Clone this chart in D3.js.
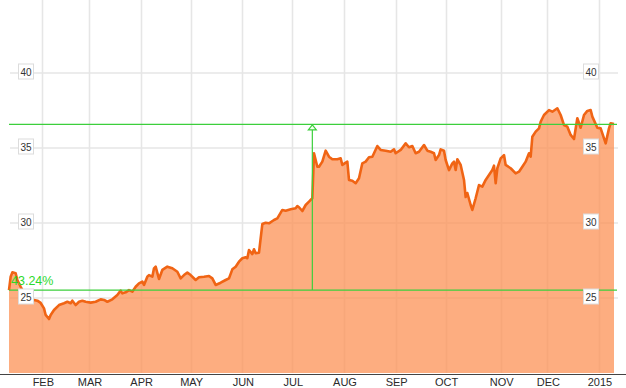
<!DOCTYPE html>
<html>
<head>
<meta charset="utf-8">
<script src="https://cdn.jsdelivr.net/npm/d3@7"></script>
<style>
  body { margin: 0; background: #fff; }
  svg { display: block; font-family: Arial, "Liberation Sans", sans-serif; }
</style>
</head>
<body>
<svg id="chart" width="626" height="388"></svg>
<script>
// One year of daily closes, area under an orange line, with a start/end change marker.

const dates = [
  "2014-01-12","2014-01-13","2014-01-14","2014-01-16","2014-01-17","2014-01-19","2014-01-21","2014-01-23",
  "2014-01-27","2014-01-29","2014-01-31","2014-02-02","2014-02-03","2014-02-05","2014-02-06","2014-02-08",
  "2014-02-11","2014-02-14","2014-02-16","2014-02-18","2014-02-19","2014-02-21","2014-02-23","2014-02-25",
  "2014-02-27","2014-03-02","2014-03-05","2014-03-08","2014-03-10","2014-03-12","2014-03-15","2014-03-18",
  "2014-03-20","2014-03-21","2014-03-23","2014-03-25","2014-03-27","2014-03-29","2014-03-31","2014-04-02",
  "2014-04-03","2014-04-05","2014-04-06","2014-04-08","2014-04-09","2014-04-10","2014-04-11","2014-04-12",
  "2014-04-14","2014-04-17","2014-04-20","2014-04-23","2014-04-25","2014-04-27","2014-04-29","2014-05-01",
  "2014-05-04","2014-05-06","2014-05-09","2014-05-12","2014-05-14","2014-05-16","2014-05-19","2014-05-22",
  "2014-05-24","2014-05-26","2014-05-28","2014-05-30","2014-06-01","2014-06-03","2014-06-04","2014-06-05",
  "2014-06-07","2014-06-08","2014-06-09","2014-06-11","2014-06-13","2014-06-15","2014-06-17","2014-06-20",
  "2014-06-22","2014-06-25","2014-06-27","2014-06-30","2014-07-03","2014-07-04","2014-07-05","2014-07-07",
  "2014-07-09","2014-07-11","2014-07-13","2014-07-14","2014-07-16","2014-07-17","2014-07-19","2014-07-21",
  "2014-07-23","2014-07-25","2014-07-28","2014-07-30","2014-07-31","2014-08-03","2014-08-04","2014-08-06",
  "2014-08-08","2014-08-10","2014-08-12","2014-08-14","2014-08-16","2014-08-18","2014-08-19","2014-08-21",
  "2014-08-23","2014-08-26","2014-08-29","2014-08-31","2014-09-01","2014-09-04","2014-09-07","2014-09-09",
  "2014-09-11","2014-09-13","2014-09-15","2014-09-18","2014-09-20","2014-09-22","2014-09-24","2014-09-25",
  "2014-09-27","2014-09-28","2014-09-30","2014-10-01","2014-10-03","2014-10-05","2014-10-06","2014-10-07",
  "2014-10-08","2014-10-10","2014-10-12","2014-10-13","2014-10-14","2014-10-16","2014-10-17","2014-10-19",
  "2014-10-21","2014-10-23","2014-10-25","2014-10-27","2014-10-29","2014-10-30","2014-10-31","2014-11-01",
  "2014-11-03","2014-11-05","2014-11-06","2014-11-09","2014-11-12","2014-11-14","2014-11-16","2014-11-18",
  "2014-11-20","2014-11-21","2014-11-22","2014-11-24","2014-11-26","2014-11-27","2014-11-29","2014-12-02",
  "2014-12-04","2014-12-07","2014-12-09","2014-12-11","2014-12-13","2014-12-15","2014-12-17","2014-12-19",
  "2014-12-21","2014-12-23","2014-12-25","2014-12-27","2014-12-28","2014-12-31","2015-01-02","2015-01-05",
  "2015-01-07","2015-01-08","2015-01-10"
];

const prices = [
  25.53,26.42,26.71,26.65,26.20,25.75,25.33,25.07,
  24.87,24.82,24.67,24.31,23.87,23.60,23.87,24.20,
  24.53,24.65,24.75,24.65,24.82,24.53,24.75,24.82,
  24.75,24.69,24.75,24.91,24.87,24.75,24.91,25.20,
  25.49,25.31,25.38,25.53,25.42,25.75,25.98,26.09,
  25.87,26.42,26.53,26.42,26.98,27.09,26.67,26.27,
  26.87,27.09,26.98,26.75,26.31,26.53,26.69,26.53,
  26.20,26.38,26.42,26.47,26.31,25.87,26.02,26.20,
  26.31,26.91,27.09,27.42,27.65,27.71,27.65,28.20,
  27.93,28.25,27.98,28.02,29.93,30.02,29.98,30.20,
  30.31,30.87,30.82,30.91,30.98,31.13,31.05,30.80,
  31.20,31.42,31.65,34.65,33.75,33.75,34.09,34.82,
  34.42,34.25,34.25,34.31,33.87,34.09,32.87,32.82,
  32.65,32.98,33.98,34.09,34.38,34.42,34.65,35.13,
  34.87,34.82,34.75,34.91,34.65,34.87,35.31,35.05,
  35.13,34.65,34.75,35.20,34.82,34.75,34.65,34.20,
  34.53,34.91,34.82,34.20,33.53,33.98,34.09,33.53,
  34.25,33.87,32.87,31.73,32.00,31.20,30.87,31.65,
  32.53,32.42,32.87,33.20,33.53,33.82,32.65,33.65,
  34.31,34.53,33.87,33.65,33.31,33.42,33.75,34.09,
  34.65,34.42,35.75,36.09,36.31,36.75,37.20,37.53,
  37.42,37.65,37.20,36.53,36.42,35.87,35.60,36.98,
  36.35,37.20,37.47,37.53,37.09,36.35,36.31,35.31,
  36.31,36.65,36.60
];

const monthTickDates = [
  "2014-02-01","2014-03-01","2014-04-01","2014-05-01","2014-06-01","2014-07-01",
  "2014-08-01","2014-09-01","2014-10-01","2014-11-03","2014-12-01","2015-01-01"
];
const monthTickLabels = ["FEB","MAR","APR","MAY","JUN","JUL","AUG","SEP","OCT","NOV","DEC","2015"];

const yTicks = [25, 30, 35, 40];

// change marker: start level, end level, date of the arrow
const baseValue = 25.53;
const endValue = 36.57;
const markerDate = "2014-07-13";
const changeLabel = "43.24%";

const parse = d3.timeParse("%Y-%m-%d");
const data = dates.map((d, i) => ({ date: parse(d), value: prices[i] }));

const svg = d3.select("#chart");
const width = +svg.attr("width");

const x = d3.scaleTime()
  .domain([parse("2014-01-12"), parse("2015-01-10")])
  .range([9, 614]);

const y = d3.scaleLinear()
  .domain([20, 45])
  .range([373, -2]);

const gridColor = "#e6e6e6";

// vertical month grid
svg.append("g")
  .selectAll("line")
  .data(monthTickDates)
  .join("line")
  .attr("x1", d => Math.round(x(parse(d))) + 0.5)
  .attr("x2", d => Math.round(x(parse(d))) + 0.5)
  .attr("y1", 0)
  .attr("y2", y(20))
  .attr("stroke", gridColor)
  .attr("stroke-width", 1.6);

// horizontal value grid
svg.append("g")
  .selectAll("line")
  .data(yTicks)
  .join("line")
  .attr("x1", 10)
  .attr("x2", 618)
  .attr("y1", d => y(d))
  .attr("y2", d => y(d))
  .attr("stroke", gridColor)
  .attr("stroke-width", 1.6);

const area = d3.area()
  .x(d => x(d.date))
  .y0(y(20))
  .y1(d => y(d.value));

const line = d3.line()
  .x(d => x(d.date))
  .y(d => y(d.value));

svg.append("path")
  .datum(data)
  .attr("d", area)
  .attr("fill", "#fc9155")
  .attr("fill-opacity", 0.75);

svg.append("path")
  .datum(data)
  .attr("d", line)
  .attr("fill", "none")
  .attr("stroke", "#f06414")
  .attr("stroke-width", 2.6)
  .attr("stroke-linejoin", "round");

// bottom axis line
svg.append("line")
  .attr("x1", 0)
  .attr("x2", width)
  .attr("y1", y(20) + 1.5)
  .attr("y2", y(20) + 1.5)
  .attr("stroke", "#444")
  .attr("stroke-width", 1);

// month labels
svg.append("g")
  .selectAll("text")
  .data(monthTickDates)
  .join("text")
  .attr("x", d => x(parse(d)) + 1)
  .attr("y", 386)
  .attr("text-anchor", "middle")
  .attr("font-family", "'Liberation Sans Narrow', 'Arial Narrow', Arial, sans-serif")
  .attr("font-size", 11)
  .attr("fill", "#2a2a2a")
  .text((d, i) => monthTickLabels[i]);

// change marker lines
const green = "#3ccf3c";
const mx = x(parse(markerDate));

svg.append("line")
  .attr("x1", 9).attr("x2", 617)
  .attr("y1", y(baseValue)).attr("y2", y(baseValue))
  .attr("stroke", green).attr("stroke-width", 1.2);

svg.append("line")
  .attr("x1", 9).attr("x2", 617)
  .attr("y1", y(endValue)).attr("y2", y(endValue))
  .attr("stroke", green).attr("stroke-width", 1.2);

svg.append("line")
  .attr("x1", mx).attr("x2", mx)
  .attr("y1", y(baseValue)).attr("y2", y(endValue))
  .attr("stroke", green).attr("stroke-width", 1.2);

svg.append("path")
  .attr("d", `M${mx},${y(endValue) + 0.5} L${mx + 4},${y(endValue) + 5.5} L${mx - 4},${y(endValue) + 5.5} Z`)
  .attr("fill", "#f4fff0")
  .attr("stroke", green)
  .attr("stroke-width", 1.2);

// value label boxes on both sides
[26, 591].forEach(cx => {
  const g = svg.append("g");
  g.selectAll("rect")
    .data(yTicks)
    .join("rect")
    .attr("x", cx - 7.5)
    .attr("y", d => y(d) - 9)
    .attr("width", 15)
    .attr("height", 15)
    .attr("fill", "#fff")
    .attr("stroke", "#dcdcdc")
    .attr("stroke-width", 1);
  g.selectAll("text")
    .data(yTicks)
    .join("text")
    .attr("x", cx)
    .attr("y", d => y(d) + 2.5)
    .attr("text-anchor", "middle")
    .attr("font-size", 10)
    .attr("fill", "#333")
    .text(d => d);
});

svg.append("text")
  .attr("x", 11)
  .attr("y", 284.5)
  .attr("font-size", 12.5)
  .attr("fill", "#2bd92b")
  .text(changeLabel);
</script>
</body>
</html>
